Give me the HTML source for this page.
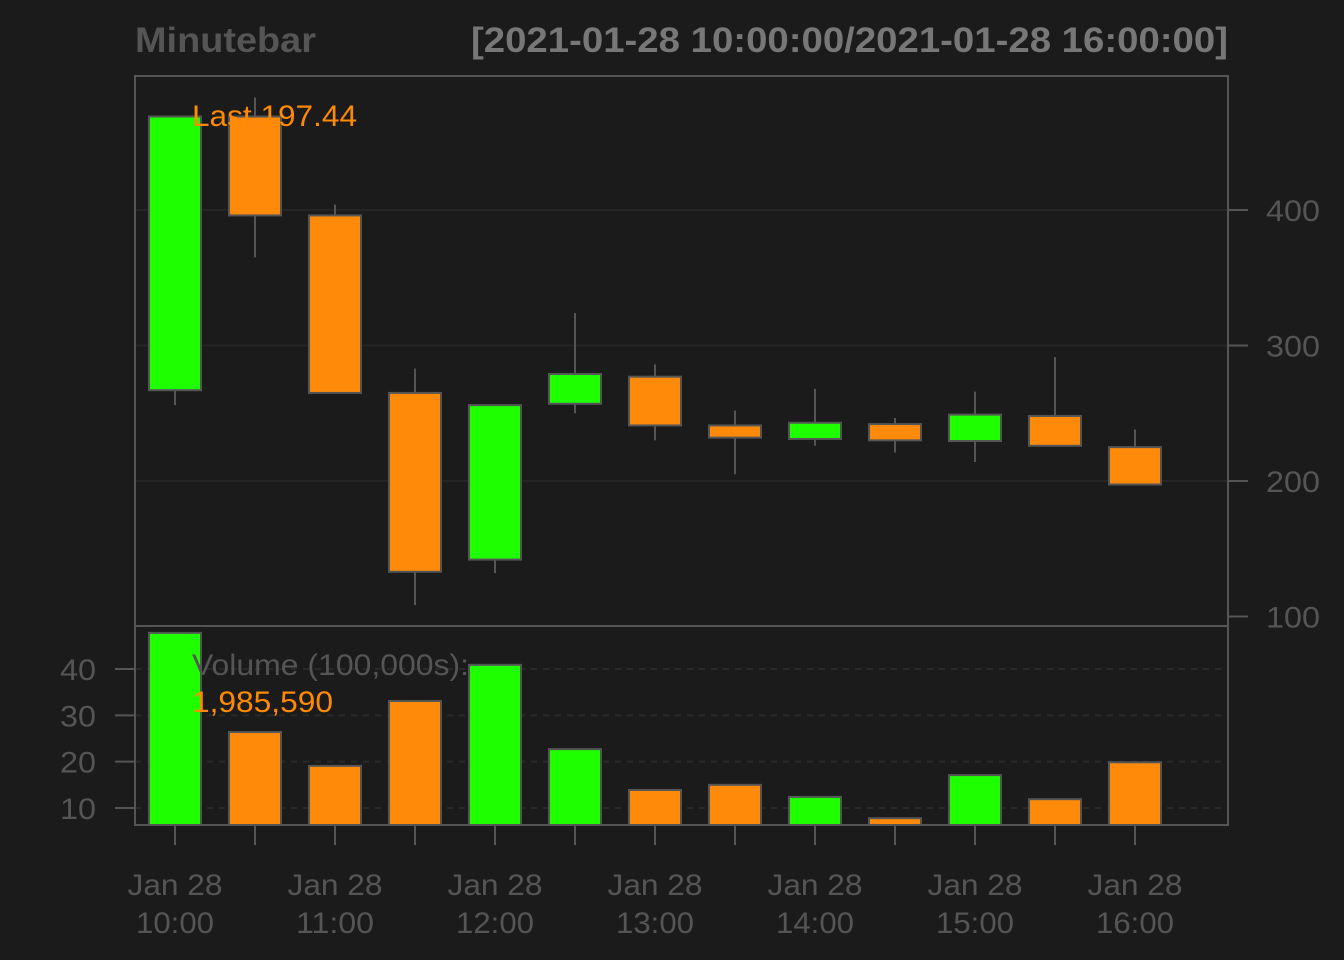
<!DOCTYPE html>
<html><head><meta charset="utf-8">
<style>
html,body{margin:0;padding:0;background:#1b1b1b;}
svg{display:block;font-family:"Liberation Sans",Arial,sans-serif;}
</style></head>
<body>
<svg id="c" width="1344" height="960" viewBox="0 0 1344 960">
<rect width="1344" height="960" fill="#1b1b1b"/>
<text x="135" y="52" font-size="35" font-weight="bold" fill="#555" textLength="181" lengthAdjust="spacingAndGlyphs">Minutebar</text>
<text x="471" y="52" font-size="35" font-weight="bold" fill="#777" textLength="757" lengthAdjust="spacingAndGlyphs">[2021-01-28 10:00:00/2021-01-28 16:00:00]</text>
<g id="grid"></g>
<g id="marks"></g>
<rect x="135" y="76" width="1093" height="550" fill="none" stroke="#555" stroke-width="2"/>
<rect x="135" y="626" width="1093" height="199" fill="none" stroke="#555" stroke-width="2"/>
<text x="192" y="126" font-size="30" fill="#ff8a00" textLength="165" lengthAdjust="spacingAndGlyphs">Last 197.44</text>
<text x="192" y="675" font-size="30" fill="#555" textLength="277" lengthAdjust="spacingAndGlyphs">Volume (100,000s):</text>
<text x="192" y="712" font-size="30" fill="#ff8a00" textLength="141" lengthAdjust="spacingAndGlyphs">1,985,590</text>
</svg>
<script>
const labels1=["Jan 28","Jan 28","Jan 28","Jan 28","Jan 28","Jan 28","Jan 28"];
const labels2=["10:00","11:00","12:00","13:00","14:00","15:00","16:00"];
const opens=[267,469,396,265,142,257,277,241,231,242,229.5,248,225];
const highs=[469,483,404,283,256,324,286,252,268,246.5,266,291.5,238];
const lows=[256,365,265,108.5,132,250,230,205,226,221,214,226,197.44];
const closes=[469,396,265,133,256,279,241,232,243,230,249,226,197.44];
const volumes=[47.8,26.4,19.1,33.1,40.9,22.7,13.9,15.0,12.4,7.8,17.1,11.9,19.86];
const priceTicks=[100,200,300,400];
const volTicks=[10,20,30,40];
const NS="http://www.w3.org/2000/svg";
const xs=i=>175+i*80;
const yp=p=>481-(p-200)*1.355;
const yv=v=>808-(v-10)*4.633;
const G=document.getElementById('grid'),M=document.getElementById('marks'),S=document.getElementById('c');
function mk(t,a,p){const e=document.createElementNS(NS,t);for(const k in a)e.setAttribute(k,a[k]);(p||M).appendChild(e);return e;}
priceTicks.forEach(t=>{const y=yp(t);
 if(t>100){const g=mk('line',{x1:135,x2:1228,y1:y,y2:y,stroke:'#252525','stroke-width':2},G);
 
 }
 mk('line',{x1:1228,x2:1248,y1:y,y2:y,stroke:'#555','stroke-width':2},S);
 const tx=mk('text',{x:1266,y:y+11,'font-size':30,fill:'#555',textLength:54,lengthAdjust:'spacingAndGlyphs'},S);tx.textContent=t;
 
 });
volTicks.forEach(t=>{const y=yv(t);
 const g=mk('line',{x1:135,x2:1228,y1:y,y2:y,stroke:'#292929','stroke-width':2,'stroke-dasharray':'6,6'},G);
 
 
 mk('line',{x1:115,x2:135,y1:y,y2:y,stroke:'#555','stroke-width':2},S);
 const tx=mk('text',{x:96,y:y+11,'font-size':30,fill:'#555','text-anchor':'end',textLength:36,lengthAdjust:'spacingAndGlyphs'},S);tx.textContent=t;
 
 });
opens.forEach((o,i)=>{const c=closes[i],x=xs(i),col=c>=o?'#1eff00':'#ff8a0a';
 const w=mk('line',{x1:x,x2:x,y1:yp(highs[i]),y2:yp(lows[i]),stroke:'#555','stroke-width':2});
 
 
 const top=yp(Math.max(o,c)),bot=yp(Math.min(o,c));
 const r=mk('rect',{x:x-26,y:top,width:52,height:Math.max(bot-top,1),fill:col,stroke:'#555','stroke-width':2});
 
 
 const vy=yv(volumes[i]);
 const b=mk('rect',{x:x-26,y:vy,width:52,height:825-vy,fill:col,stroke:'#555','stroke-width':2});
 
 
 mk('line',{x1:x,x2:x,y1:825,y2:845,stroke:'#555','stroke-width':2},S);});
labels1.forEach((l,j)=>{const x=xs(j*2);
 const t1=mk('text',{x:x,y:895,'font-size':30,fill:'#555','text-anchor':'middle',textLength:95,lengthAdjust:'spacingAndGlyphs'},S);t1.textContent=l;
 
 
 const t2=mk('text',{x:x,y:933,'font-size':30,fill:'#555','text-anchor':'middle',textLength:78,lengthAdjust:'spacingAndGlyphs'},S);t2.textContent=labels2[j];
 
 });
</script>
</body></html>
